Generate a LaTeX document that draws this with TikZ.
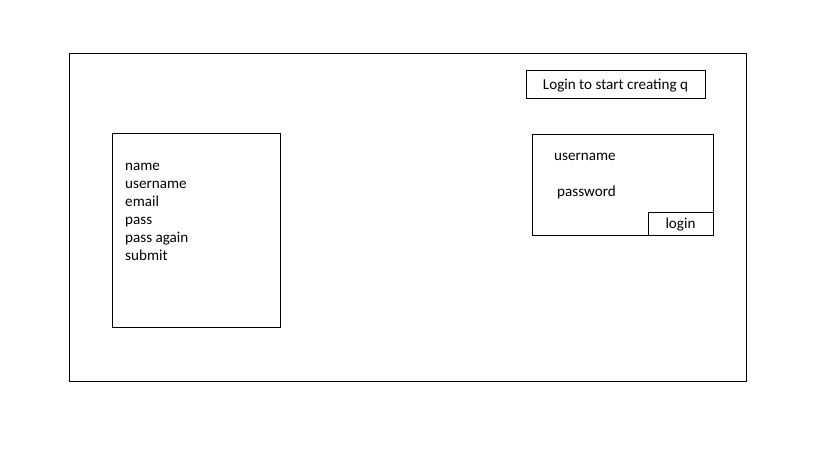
\documentclass[tikz,border=0pt]{standalone}
\usepackage{fontspec}
\setmainfont{Carlito}
\usepackage{tikz}
\usetikzlibrary{positioning}
\tikzset{
  frame/.style={rectangle, draw=black, line width=0.8pt, inner sep=0pt, outer sep=0pt},
  field/.style={font=\fontsize{12.9}{15}\selectfont, inner sep=0pt, anchor=base west},
  caption/.style={font=\fontsize{12.9}{15}\selectfont, inner sep=0pt},
}

\begin{document}
\begin{tikzpicture}[x=0.03cm, y=-0.03cm]
  \useasboundingbox (0,0) rectangle (819,460);
  % page
  \node[frame, minimum width=20.31cm, minimum height=9.84cm] (page) at (407.5,217) {};

  % heading
  \node[frame, minimum width=5.37cm, minimum height=0.84cm] (title) at (615.5,84) {};
  \node[caption] (titletext) at ([yshift=-1]title.center) {Login to start creating q};

  % sign-up form
  \node[frame, minimum width=5.04cm, minimum height=5.82cm] (signup) at (196,230) {};
  \node[field] (fname) at (125,171) {name};
  \node[field] (fuser) at (125,189) {username};
  \node[field] (fmail) at (125,207) {email};
  \node[field] (fpass) at (125,225) {pass};
  \node[field] (fagain) at (125,243) {pass again};
  \node[field] (fsubmit) at (125,261) {submit};

  % login form
  \node[frame, minimum width=5.43cm, minimum height=3.03cm] (login) at (622.5,184.5) {};
  \node[field] (luser) at (554,161) {username};
  \node[field] (lpass) at (557,197) {password};
  \node[frame, minimum width=1.95cm, minimum height=0.69cm] (lbtn) at (680.5,223.5) {};
  \node[caption] (lbtntext) at ([yshift=-1]lbtn.center) {login};
\end{tikzpicture}
\end{document}
